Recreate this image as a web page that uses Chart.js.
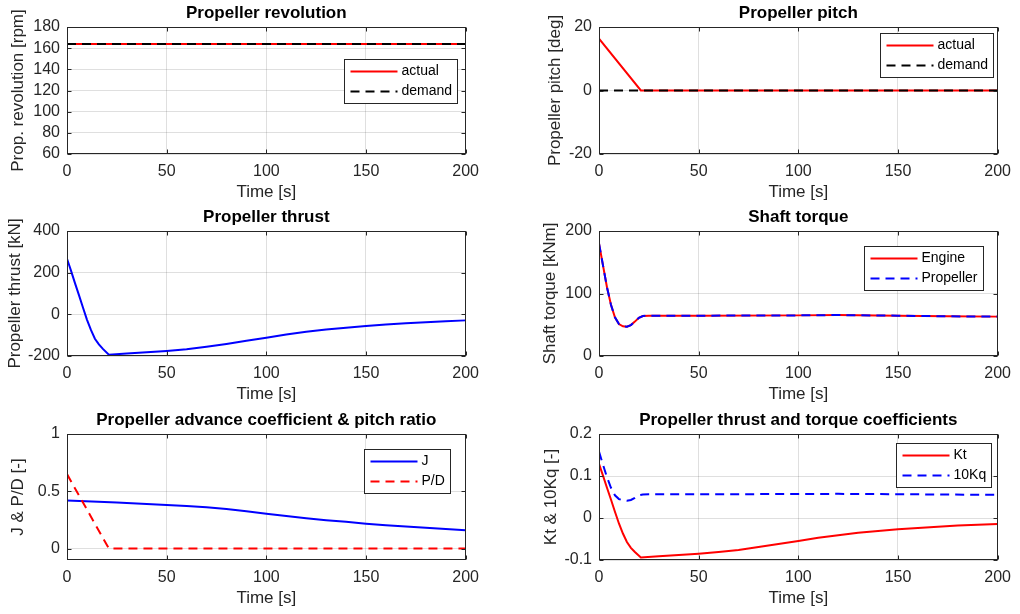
<!DOCTYPE html>
<html><head><meta charset="utf-8">
<script src="https://cdn.jsdelivr.net/npm/chart.js@4.4.1/dist/chart.umd.min.js"></script>
<style>
html,body{margin:0;padding:0;background:#fff;width:1020px;height:614px;overflow:hidden;}
body{position:relative;}
canvas{position:absolute;}
</style></head><body>
<canvas id="c1"></canvas><canvas id="c2"></canvas><canvas id="c3"></canvas>
<canvas id="c4"></canvas><canvas id="c5"></canvas><canvas id="c6"></canvas>
<script>
// ---------- data ----------
const timeTicks = [0, 50, 100, 150, 200];
const timeTickLabels = ['0', '50', '100', '150', '200'];

// 1. Propeller revolution
const revTime = [0, 200];
const revActual = [164, 164];
const revDemand = [164, 164];
const revTicks = [60, 80, 100, 120, 140, 160, 180];
const revTickLabels = ['60', '80', '100', '120', '140', '160', '180'];

// 2. Propeller pitch
const pitchTime = [0, 21, 200];
const pitchActual = [16.3, 0, 0];
const pitchDemandTime = [0, 200];
const pitchDemand = [0, 0];
const pitchTicks = [-20, 0, 20];
const pitchTickLabels = ['-20', '0', '20'];

// 3. Propeller thrust
const thrustTime = [0, 2, 4, 6, 8, 10, 12, 14, 16, 18, 21, 30, 40, 50, 60, 70, 80, 90, 100, 110, 120, 130, 140, 150, 160, 170, 180, 190, 200];
const thrustVals = [267, 210, 150, 92, 33, -25, -75, -117, -144, -166, -194, -188, -182, -176, -168, -156, -142, -127, -112, -97, -84, -73, -64, -56, -49, -43, -38, -33, -29];
const thrustTicks = [-200, 0, 200, 400];
const thrustTickLabels = ['-200', '0', '200', '400'];

// 4. Shaft torque
const torqueTime = [0, 2, 4, 6, 8, 10, 12, 14, 16, 18, 20, 22, 25, 50, 100, 120, 150, 175, 200];
const torqueEngine = [180, 145, 110, 82, 62, 51, 47.5, 47, 49.5, 55, 61, 64, 64.5, 64.5, 65, 65.5, 64.5, 63.5, 63];
const torquePropeller = [180, 145, 110, 82, 62, 51, 47.5, 47, 49.5, 55, 61, 64, 64.5, 64.5, 65, 65.5, 64.5, 63.5, 63];
const torqueTicks = [0, 100, 200];
const torqueTickLabels = ['0', '100', '200'];

// 5. J & P/D
const jTime = [0, 25, 50, 60, 70, 80, 90, 100, 110, 120, 130, 140, 150, 160, 170, 180, 190, 200];
const jVals = [0.42, 0.401, 0.381, 0.372, 0.36, 0.345, 0.325, 0.304, 0.284, 0.265, 0.248, 0.233, 0.217, 0.204, 0.192, 0.181, 0.17, 0.16];
const pdTime = [0, 21, 200];
const pdVals = [0.65, 0, 0];
const jpdTicks = [0, 0.5, 1];
const jpdTickLabels = ['0', '0.5', '1'];

// 6. Kt & 10Kq
const ktTime = [0, 2, 4, 6, 8, 10, 12, 14, 16, 18, 21, 30, 40, 50, 60, 70, 80, 90, 100, 110, 120, 130, 140, 150, 160, 170, 180, 190, 200];
const ktVals = [0.129, 0.101, 0.072, 0.044, 0.015, -0.013, -0.037, -0.057, -0.071, -0.081, -0.094, -0.091, -0.088, -0.085, -0.081, -0.076, -0.069, -0.062, -0.055, -0.047, -0.041, -0.035, -0.031, -0.027, -0.024, -0.021, -0.018, -0.016, -0.014];
const kqTime = [0, 2, 4, 6, 8, 10, 12, 14, 16, 18, 20, 22, 25, 50, 100, 120, 150, 175, 200];
const kqVals = [0.158, 0.127, 0.097, 0.072, 0.054, 0.045, 0.042, 0.041, 0.043, 0.048, 0.054, 0.056, 0.0566, 0.0566, 0.057, 0.0575, 0.0566, 0.0558, 0.0553];
const coefTicks = [-0.1, 0, 0.1, 0.2];
const coefTickLabels = ['-0.1', '0', '0.1', '0.2'];

// ---------- styling ----------
const FONT = '"Liberation Sans", Arial, Helvetica, sans-serif';
const AXIS = '#262626';
const GRID = 'rgba(38,38,38,0.15)';
const RED = '#ff0000', BLUE = '#0000ff', BLACK = '#000000';
const DASH = [9, 6];

const pts = (xs, ys) => xs.map((x, i) => ({x: x, y: ys[i]}));

const matlabBox = {
  id: 'matlabBox',
  afterDatasetsDraw(chart) {
    const ctx = chart.ctx, a = chart.chartArea;
    const xs = chart.scales.x, ys = chart.scales.y;
    const o = chart.options.plugins.matlabBox || {};
    ctx.save();
    ctx.strokeStyle = AXIS;
    ctx.lineWidth = 1;
    ctx.setLineDash([]);
    const L = Math.round(a.left) + 0.5, R = Math.round(a.right) - 0.5;
    const T = Math.round(a.top) + 0.5, B = Math.round(a.bottom) - 0.5;
    ctx.beginPath();
    xs.ticks.forEach(t => {
      const p = Math.round(xs.getPixelForValue(t.value)) + 0.5;
      ctx.moveTo(p, B); ctx.lineTo(p, B - 4);
      ctx.moveTo(p, T); ctx.lineTo(p, T + 4);
    });
    ys.ticks.forEach(t => {
      const p = Math.round(ys.getPixelForValue(t.value)) + 0.5;
      ctx.moveTo(L, p); ctx.lineTo(L + 4, p);
      ctx.moveTo(R, p); ctx.lineTo(R - 4, p);
    });
    ctx.stroke();
    ctx.strokeRect(L, T, R - L, B - T);
    const lg = o.legend;
    if (lg) {
      ctx.font = '14px ' + FONT;
      let tw = 0;
      lg.items.forEach(it => { tw = Math.max(tw, ctx.measureText(it.label).width); });
      const w = Math.round(6 + 47 + 4 + tw + 5.5), h = 44;
      const x = Math.round(a.right - lg.right - w) + 0.5, y = Math.round(a.top + lg.top) + 0.5;
      ctx.fillStyle = '#fff';
      ctx.fillRect(x, y, w, h);
      ctx.strokeStyle = AXIS;
      ctx.lineWidth = 1;
      ctx.strokeRect(x, y, w, h);
      lg.items.forEach((it, i) => {
        const cy = y + 12 + i * 20;
        ctx.beginPath();
        ctx.strokeStyle = it.color;
        ctx.lineWidth = 2;
        ctx.setLineDash(it.dash ? DASH : []);
        ctx.moveTo(x + 6, cy); ctx.lineTo(x + 53, cy);
        ctx.stroke();
        ctx.setLineDash([]);
        ctx.fillStyle = '#000';
        ctx.textBaseline = 'middle';
        ctx.textAlign = 'left';
        ctx.fillText(it.label, x + 57, cy);
      });
    }
    ctx.restore();
  }
};

function ds(label, data, color, dashed, order) {
  return {label: label, data: data, borderColor: color, backgroundColor: color, borderWidth: 2,
    borderDash: dashed ? DASH : [], pointRadius: 0, tension: 0, fill: false, order: order};
}

function makeChart(id, cfg) {
  const cl = cfg.col === 0 ? 0 : 520;
  const L = cfg.col === 0 ? 67 : 599;
  const R = cfg.col === 0 ? 471 : 1003;
  const T = cfg.T, B = cfg.B;
  const cv = document.getElementById(id);
  cv.width = R + 16 - cl;
  cv.height = B - T + 77;
  cv.style.left = cl + 'px';
  cv.style.top = (T - 28) + 'px';
  const yw = L - cl;
  return new Chart(cv, {
    type: 'line',
    data: {datasets: cfg.datasets},
    plugins: [matlabBox],
    options: {
      responsive: false, animation: false, devicePixelRatio: 1,
      layout: {padding: {left: 0, right: 16, top: 0, bottom: 0}, autoPadding: false},
      plugins: {
        legend: {display: false}, tooltip: {enabled: false},
        title: {display: true, text: cfg.title, color: '#000', fullSize: false,
          font: {family: FONT, size: 17, weight: 'bold'}, padding: {top: 4.3, bottom: 3.3}},
        matlabBox: {legend: cfg.legend}
      },
      scales: {
        x: {
          type: 'linear', min: 0, max: 200,
          afterBuildTicks: s => { s.ticks = timeTicks.map(v => ({value: v})); },
          afterFit: s => { s.height = 49; },
          ticks: {callback: (v) => timeTickLabels[timeTicks.indexOf(v)], color: AXIS, padding: 8,
            font: {family: FONT, size: 16}, maxRotation: 0, autoSkip: false},
          grid: {color: GRID, drawTicks: false}, border: {display: false},
          title: {display: true, text: 'Time [s]', color: AXIS, font: {family: FONT, size: 17}, padding: {top: 0, bottom: 0}}
        },
        y: {
          type: 'linear', min: cfg.yMin, max: cfg.yMax,
          afterBuildTicks: s => { s.ticks = cfg.yTicks.map(v => ({value: v})); },
          afterFit: s => { s.width = yw; },
          ticks: {callback: (v) => cfg.yLabels[cfg.yTicks.indexOf(v)], color: AXIS, padding: 7,
            font: {family: FONT, size: 16}, autoSkip: false},
          grid: {color: GRID, drawTicks: false}, border: {display: false},
          title: {display: true, text: cfg.yTitle, color: AXIS, font: {family: FONT, size: 17}, padding: {top: cfg.yTitlePad, bottom: 0}}
        }
      }
    }
  });
}

makeChart('c1', {col: 0, T: 27, B: 154, title: 'Propeller revolution', yTitle: 'Prop. revolution [rpm]', yTitlePad: 8.3,
  yMin: 60, yMax: 180, yTicks: revTicks, yLabels: revTickLabels,
  datasets: [ds('actual', pts(revTime, revActual), RED, false, 1), ds('demand', pts(revTime, revDemand), BLACK, true, 0)],
  legend: {right: 8.5, top: 32, items: [{label: 'actual', color: RED, dash: false}, {label: 'demand', color: BLACK, dash: true}]}});

makeChart('c2', {col: 1, T: 27, B: 154, title: 'Propeller pitch', yTitle: 'Propeller pitch [deg]', yTitlePad: 24.8,
  yMin: -20, yMax: 20, yTicks: pitchTicks, yLabels: pitchTickLabels,
  datasets: [ds('actual', pts(pitchTime, pitchActual), RED, false, 1), ds('demand', pts(pitchDemandTime, pitchDemand), BLACK, true, 0)],
  legend: {right: 4.3, top: 6, items: [{label: 'actual', color: RED, dash: false}, {label: 'demand', color: BLACK, dash: true}]}});

makeChart('c3', {col: 0, T: 231, B: 356, title: 'Propeller thrust', yTitle: 'Propeller thrust [kN]', yTitlePad: 4.8,
  yMin: -200, yMax: 400, yTicks: thrustTicks, yLabels: thrustTickLabels,
  datasets: [ds('thrust', pts(thrustTime, thrustVals), BLUE, false, 0)]});

makeChart('c4', {col: 1, T: 231, B: 356, title: 'Shaft torque', yTitle: 'Shaft torque [kNm]', yTitlePad: 19.8,
  yMin: 0, yMax: 200, yTicks: torqueTicks, yLabels: torqueTickLabels,
  datasets: [ds('Engine', pts(torqueTime, torqueEngine), RED, false, 1), ds('Propeller', pts(torqueTime, torquePropeller), BLUE, true, 0)],
  legend: {right: 14.7, top: 14.5, items: [{label: 'Engine', color: RED, dash: false}, {label: 'Propeller', color: BLUE, dash: true}]}});

makeChart('c5', {col: 0, T: 434, B: 560, title: 'Propeller advance coefficient & pitch ratio', yTitle: 'J & P/D [-]', yTitlePad: 7.8,
  yMin: -0.1, yMax: 1, yTicks: jpdTicks, yLabels: jpdTickLabels,
  datasets: [ds('J', pts(jTime, jVals), BLUE, false, 1), ds('P/D', pts(pdTime, pdVals), RED, true, 0)],
  legend: {right: 15.7, top: 14.5, items: [{label: 'J', color: BLUE, dash: false}, {label: 'P/D', color: RED, dash: true}]}});

makeChart('c6', {col: 1, T: 434, B: 560, title: 'Propeller thrust and torque coefficients', yTitle: 'Kt & 10Kq [-]', yTitlePad: 20.8,
  yMin: -0.1, yMax: 0.2, yTicks: coefTicks, yLabels: coefTickLabels,
  datasets: [ds('Kt', pts(ktTime, ktVals), RED, false, 1), ds('10Kq', pts(kqTime, kqVals), BLUE, true, 0)],
  legend: {right: 6.3, top: 8.7, items: [{label: 'Kt', color: RED, dash: false}, {label: '10Kq', color: BLUE, dash: true}]}});
</script>
</body></html>
